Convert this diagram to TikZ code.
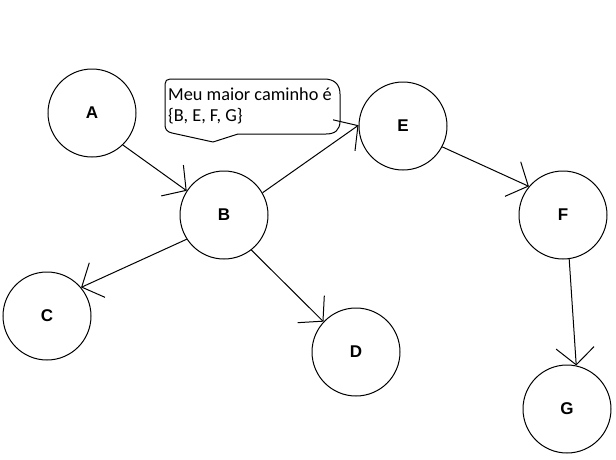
\documentclass[tikz,border=0pt]{standalone}
\usepackage{fontspec}
\setmainfont{Liberation Sans}
\newfontfamily\calloutfont{Carlito}
\usetikzlibrary{arrows.meta}
\tikzset{
  vertex/.style={draw=black, line width=1pt, circle, minimum size=88pt, inner sep=0pt,
    font=\fontsize{17}{20}\selectfont\bfseries},
  arr/.style={draw=black, line width=1pt, -{Straight Barb[length=17pt,width=38pt,line width=1pt]}},
  calloutline/.style={draw=black, line width=1pt, line join=round},
  callouttxt/.style={anchor=base west, inner sep=0pt, font=\calloutfont\fontsize{18.3}{21}\selectfont}
}
\begin{document}
\begin{tikzpicture}[x=1pt,y=-1pt]
\useasboundingbox (0,0) rectangle (616,459);
\fill[white] (0,0) rectangle (616,459);
% nodes
\node[vertex] (A) at (92,113) {A};
\node[vertex] (B) at (224,215) {B};
\node[vertex] (C) at (47,316) {C};
\node[vertex] (D) at (356,352) {D};
\node[vertex] (E) at (403,126) {E};
\node[vertex] (F) at (563,215) {F};
\node[vertex] (G) at (567,409) {G};
% edges
\draw[arr] (A.-46) -- (B.147);
\draw[arr] (B.-147) -- (C.40);
\draw[arr] (B.-52) -- (D.137);
\draw[arr] (B.30) -- (E.179);
\draw[arr] (E.-28) -- (F.140);
\draw[arr] (F.-82) -- (G.78);
% callout
\draw[calloutline] (170,79) -- (324,79)
  .. controls (334,79) and (340,84) .. (340,94)
  -- (340,121)
  .. controls (340,130) and (335,134) .. (326,134)
  -- (238,134) -- (213,142) -- (172,133)
  .. controls (167,132) and (165,129) .. (165,125)
  -- (165,84)
  .. controls (165,81) and (167,79) .. (170,79) -- cycle;
\node[callouttxt] (t1) at (168,100) {Meu maior caminho é};
\node[callouttxt] (t2) at (168,121) {\{B, E, F, G\}};
\end{tikzpicture}
\end{document}
